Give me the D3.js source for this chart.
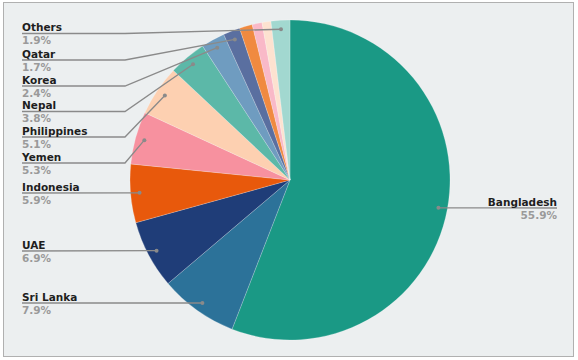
<!DOCTYPE html>
<html><head><meta charset="utf-8">
<script src="https://cdn.jsdelivr.net/npm/d3@7"></script>
<style>html,body{margin:0;padding:0;background:#fff;}svg{display:block;}</style>
</head><body>
<svg id="c" width="578" height="360"></svg>
<script>
const categories = ["Bangladesh","Sri Lanka","UAE","Indonesia","Yemen","Philippines","Nepal","Korea","Qatar","Other A","Other B","Other C","Others"];
const values = [55.9,7.9,6.9,5.9,5.3,5.1,3.8,2.4,1.7,1.3,1.0,0.9,1.9];
const labelled = ["Bangladesh","Sri Lanka","UAE","Indonesia","Yemen","Philippines","Nepal","Korea","Qatar","Others"];
const colors = ["#1a9985","#2c7299","#1f3d78","#e8590c","#f7919f","#fdd0b1","#5cb8a8","#6f9cc0","#5a6fa0","#f08a40","#f9b9c8","#fde2d0","#a2d8d0"];
// label line y-positions (layout)
const labelY = {"Others":33.5,"Qatar":60,"Korea":86,"Nepal":111.5,"Philippines":137,"Yemen":163,"Indonesia":193,"UAE":251,"Sri Lanka":303,"Bangladesh":208};

const svg = d3.select("#c");
svg.append("rect").attr("x",3.5).attr("y",2.5).attr("width",570).attr("height",354)
  .attr("fill","#eceff0").attr("stroke","#b0b0b0").attr("stroke-width",1);

const cx = 290, cy = 180, R = 160;
const data = categories.map((c,i)=>({name:c,value:values[i],color:colors[i]}));
const pie = d3.pie().value(d=>d.value).sort(null);
const arcs = pie(data);
const arc = d3.arc().innerRadius(0).outerRadius(R);
const dotArc = d3.arc().innerRadius(151).outerRadius(151);
const g = svg.append("g").attr("transform",`translate(${cx},${cy})`);
g.selectAll("path").data(arcs).join("path")
  .attr("d",arc).attr("fill",d=>d.data.color)
  .attr("stroke","#ffffff").attr("stroke-opacity",0.35).attr("stroke-width",0.6);

const font = "'DejaVu Sans', Verdana, sans-serif";
const lg = svg.append("g");
arcs.filter(a=>labelled.includes(a.data.name)).forEach(a=>{
  const [dx,dy] = dotArc.centroid(a);
  const px = cx+dx, py = cy+dy;
  const ly = labelY[a.data.name];
  const right = a.data.name === "Bangladesh";
  let pts;
  if (right) {
    pts = [[px,py],[557,ly]];
  } else if (Math.abs(py-ly) < 3) {
    pts = [[22,ly],[px,py]];
  } else {
    pts = [[22,ly],[125,ly],[px,py]];
  }
  lg.append("path").attr("d",d3.line()(pts)).attr("fill","none")
    .attr("stroke","#8a8a8a").attr("stroke-width",1.3);
  lg.append("circle").attr("cx",px).attr("cy",py).attr("r",2).attr("fill","#8a8a8a");
  const tx = right ? 557 : 22;
  const anchor = right ? "end" : "start";
  lg.append("text").attr("x",tx).attr("y",ly-2.5).attr("text-anchor",anchor)
    .attr("font-family",font).attr("font-weight","bold").attr("font-size",10.5)
    .attr("fill","#1e1e1e").text(a.data.name);
  lg.append("text").attr("x",tx).attr("y",ly+10.5).attr("text-anchor",anchor)
    .attr("font-family",font).attr("font-weight","bold").attr("font-size",10.5)
    .attr("fill","#9a9a9a").text(a.data.value.toFixed(1)+"%");
});
</script>
</body></html>
